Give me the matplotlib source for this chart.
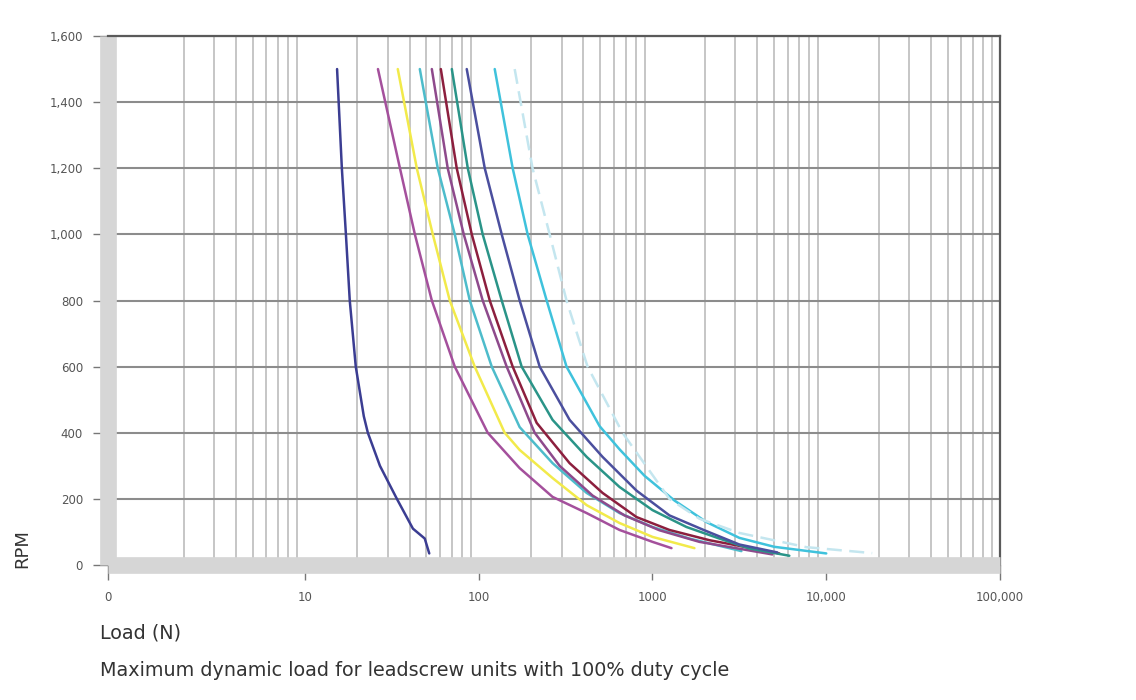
import matplotlib
matplotlib.use("Agg")
import matplotlib.pyplot as plt
from matplotlib.ticker import FixedLocator, NullFormatter

# ---- data (load in N, speed in RPM) ----
rpm_navy1 = [1500, 1200, 1000, 800, 600, 450, 400, 300, 200, 110, 80, 35]
load_navy1 = [15.3, 16.3, 17.2, 18.1, 19.6, 21.8, 23.0, 27.0, 33.8, 41.8, 48.9, 51.9]

rpm_magenta = [1500, 1200, 1000, 800, 600, 400, 293, 206, 157, 106, 70, 51]
load_magenta = [26.3, 35.2, 42.9, 53.7, 72.8, 112.6, 172, 266, 418, 646, 1000, 1286]

rpm_yellow = [1500, 1200, 1000, 800, 600, 400, 348, 263, 181, 127, 85, 51]
load_yellow = [34.2, 44.0, 54.4, 68.1, 94.8, 141, 172, 266, 418, 646, 1000, 1743]

rpm_cyan_a = [1500, 1200, 1000, 800, 600, 417, 308, 218, 157, 115, 80, 42]
load_cyan_a = [45.8, 58.1, 72.8, 88.8, 118.8, 172, 266, 418, 646, 1000, 1632, 3248]

rpm_purple = [1500, 1200, 1000, 800, 600, 400, 300, 210, 150, 105, 70, 32]
load_purple = [53.7, 66.3, 82.0, 105.4, 144.8, 209.8, 292, 452, 690, 1097, 1862, 4894]

rpm_maroon = [1500, 1200, 1000, 800, 600, 430, 308, 218, 145, 106, 75, 35]
load_maroon = [60.5, 74.7, 91.2, 115.7, 156.8, 215.4, 333.4, 516, 809, 1252, 2126, 5370]

rpm_teal = [1500, 1200, 1000, 800, 600, 439, 327, 236, 166, 115, 80, 50, 28]
load_teal = [70.0, 86.5, 105.4, 135.6, 176.6, 266, 418, 646, 1000, 1568, 2427, 3609, 6130]

rpm_navy2 = [1500, 1200, 1000, 800, 600, 439, 327, 225, 150, 105, 62, 38]
load_navy2 = [85.3, 108.3, 135.6, 172, 224.2, 333.4, 516, 809, 1252, 1990, 3162, 5228]

rpm_cyan_b = [1500, 1200, 1000, 800, 600, 420, 350, 270, 195, 130, 82, 55, 35]
load_cyan_b = [123.6, 156.8, 191.2, 246, 320, 496, 646, 899, 1338, 2043, 3162, 5024, 10000]

rpm_pale = [1500, 1200, 1000, 800, 600, 400, 200, 140, 97, 54, 36]
load_pale = [161, 204, 256, 320, 423, 672, 1252, 1862, 3162, 7674, 18380]

x_tick_vals = [0.735, 10, 100, 1000, 10000, 100000]
x_tick_labels = ["0", "10", "100", "1000", "10,000", "100,000"]
y_tick_vals = [0, 200, 400, 600, 800, 1000, 1200, 1400, 1600]
y_tick_labels = ["0", "200", "400", "600", "800", "1,000", "1,200", "1,400", "1,600"]

series = [
    (load_navy1, rpm_navy1, "#3b3d92", "-"),
    (load_magenta, rpm_magenta, "#a4509c", "-"),
    (load_yellow, rpm_yellow, "#f2ea4a", "-"),
    (load_cyan_a, rpm_cyan_a, "#4dbccb", "-"),
    (load_purple, rpm_purple, "#8e4a8c", "-"),
    (load_maroon, rpm_maroon, "#8c1f3e", "-"),
    (load_teal, rpm_teal, "#2a9488", "-"),
    (load_navy2, rpm_navy2, "#4b4f9e", "-"),
    (load_cyan_b, rpm_cyan_b, "#3fc2dc", "-"),
    (load_pale, rpm_pale, "#c4e6ef", (0, (6, 3))),
]

plt.rcParams['font.family'] = ['DejaVu Sans']

fig = plt.figure(figsize=(11.36, 7.0), dpi=100)
ax = fig.add_axes([108/1136, 1 - 565/700, (1000 - 108)/1136, (565 - 36)/700])
ax.set_xscale("log")
ax.set_xlim(0.735, 100000)
ax.set_ylim(0, 1600)

# grid
minor_pos = []
for d in [1, 10, 100, 1000, 10000]:
    for m in range(2, 11):
        v = d * m
        if v < 100000:
            minor_pos.append(v)
ax.xaxis.set_minor_locator(FixedLocator(minor_pos))
ax.xaxis.set_minor_formatter(NullFormatter())
ax.set_xticks(x_tick_vals)
ax.set_xticklabels(x_tick_labels)
ax.set_yticks(y_tick_vals)
ax.set_yticklabels(y_tick_labels)
ax.grid(False)
ax.grid(True, which="minor", axis="x", color="#c6c6c6", linewidth=1.4, zorder=0)
ax.grid(True, which="major", axis="y", color="#8c8c8c", linewidth=1.5, zorder=0)

for lx, ry, col, ls in series:
    ax.plot(lx, ry, color=col, linewidth=1.8, linestyle=ls, zorder=3,
            solid_capstyle="round", solid_joinstyle="round")

# spines
for side in ("left", "bottom"):
    ax.spines[side].set_color("#d6d6d6")
    ax.spines[side].set_linewidth(12)
    ax.spines[side].set_capstyle("butt")
for side in ("top", "right"):
    ax.spines[side].set_color("#5a5a5a")
    ax.spines[side].set_linewidth(1.6)

ax.tick_params(axis="both", which="major", direction="out", length=11, width=1,
               color="#777777", labelcolor="#555555", labelsize=8.5)
ax.tick_params(axis="x", which="minor", length=0)
ax.tick_params(axis="x", which="major", pad=8)
ax.tick_params(axis="y", which="major", pad=7)

fig.text(22/1136, 1 - 568/700, "RPM", rotation=90, ha="center", va="bottom",
         fontsize=13, color="#333333")
fig.text(100/1136, 1 - 633/700, "Load (N)", ha="left", va="center",
         fontsize=13.8, color="#333333")
fig.text(100/1136, 1 - 670/700,
         "Maximum dynamic load for leadscrew units with 100% duty cycle",
         ha="left", va="center", fontsize=13.8, color="#333333")

fig.savefig("out.png", dpi=100)
